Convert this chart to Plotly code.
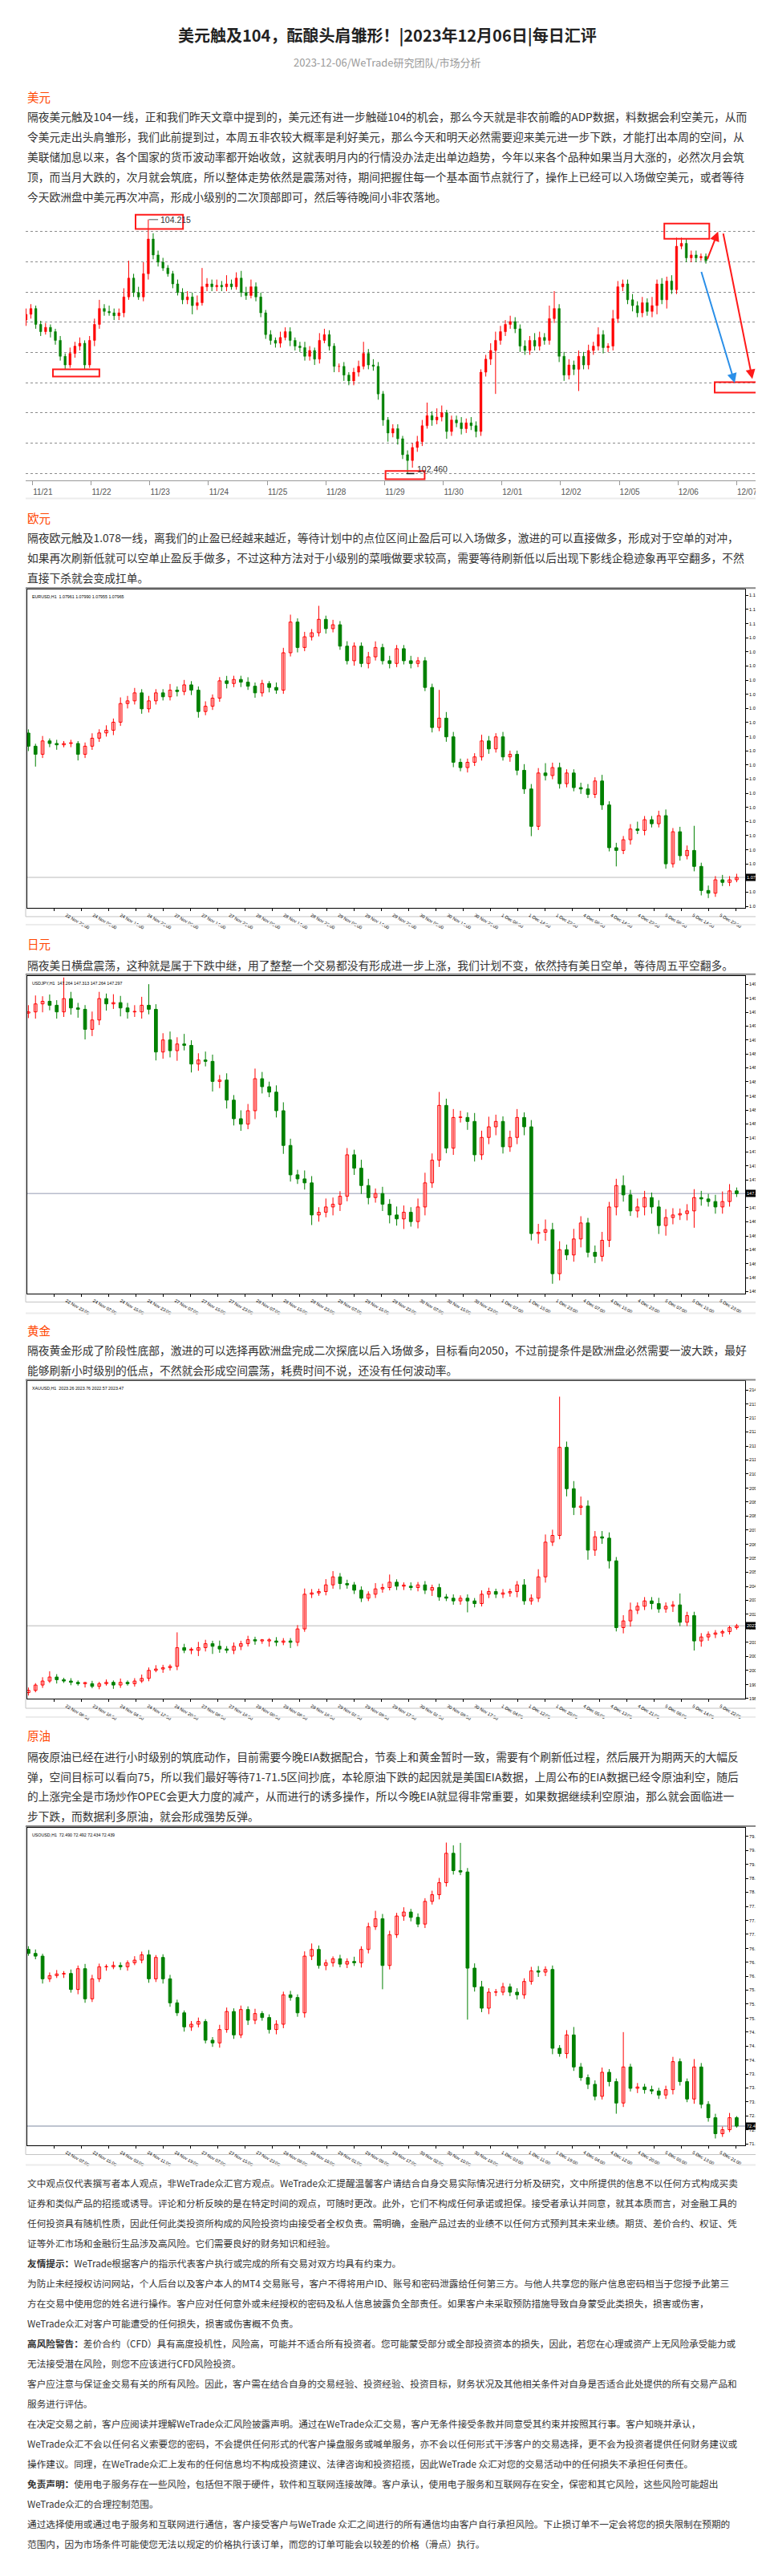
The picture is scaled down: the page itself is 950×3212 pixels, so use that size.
import plotly.graph_objects as go

W, H = 950, 3212
CJK = "Noto Sans CJK SC, sans-serif"
LAT = "Liberation Sans, Arial, sans-serif"
UP, DN = "#ff0000", "#008000"
BODY_SIZE, DISC_SIZE = 13.75, 11.65

# ---------------- text ----------------
title = "美元触及104，酝酿头肩雏形！|2023年12月06日|每日汇评"
subtitle = "2023-12-06/WeTrade研究团队/市场分析"
usd_head, eur_head, jpy_head, gold_head, oil_head = "美元", "欧元", "日元", "黄金", "原油"
usd_text = [
    "隔夜美元触及104一线，正和我们昨天文章中提到的，美元还有进一步触碰104的机会，那么今天就是非农前瞻的ADP数据，料数据会利空美元，从而",
    "令美元走出头肩雏形，我们此前提到过，本周五非农较大概率是利好美元，那么今天和明天必然需要迎来美元进一步下跌，才能打出本周的空间，从",
    "美联储加息以来，各个国家的货币波动率都开始收敛，这就表明月内的行情没办法走出单边趋势，今年以来各个品种如果当月大涨的，必然次月会筑",
    "顶，而当月大跌的，次月就会筑底，所以整体走势依然是震荡对待，期间把握住每一个基本面节点就行了，操作上已经可以入场做空美元，或者等待",
    "今天欧洲盘中美元再次冲高，形成小级别的二次顶部即可，然后等待晚间小非农落地。",
]
eur_text = [
    "隔夜欧元触及1.078一线，离我们的止盈已经越来越近，等待计划中的点位区间止盈后可以入场做多，激进的可以直接做多，形成对于空单的对冲，",
    "如果再次刷新低就可以空单止盈反手做多，不过这种方法对于小级别的菜哦做要求较高，需要等待刷新低以后出现下影线企稳迹象再平空翻多，不然",
    "直接下杀就会变成扛单。",
]
jpy_text = [
    "隔夜美日横盘震荡，这种就是属于下跌中继，用了整整一个交易都没有形成进一步上涨，我们计划不变，依然持有美日空单，等待周五平空翻多。",
]
gold_text = [
    "隔夜黄金形成了阶段性底部，激进的可以选择再欧洲盘完成二次探底以后入场做多，目标看向2050，不过前提条件是欧洲盘必然需要一波大跌，最好",
    "能够刷新小时级别的低点，不然就会形成空间震荡，耗费时间不说，还没有任何波动率。",
]
oil_text = [
    "隔夜原油已经在进行小时级别的筑底动作，目前需要今晚EIA数据配合，节奏上和黄金暂时一致，需要有个刷新低过程，然后展开为期两天的大幅反",
    "弹，空间目标可以看向75，所以我们最好等待71-71.5区间抄底，本轮原油下跌的起因就是美国EIA数据，上周公布的EIA数据已经令原油利空，随后",
    "的上涨完全是市场炒作OPEC会更大力度的减产，从而进行的诱多操作，所以今晚EIA就显得非常重要，如果数据继续利空原油，那么就会面临进一",
    "步下跌，而数据利多原油，就会形成强势反弹。",
]
disclaimer = [
    "文中观点仅代表撰写者本人观点，非WeTrade众汇官方观点。WeTrade众汇提醒温馨客户请结合自身交易实际情况进行分析及研究，文中所提供的信息不以任何方式构成买卖",
    "证券和类似产品的招揽或诱导。评论和分析反映的是在特定时间的观点，可随时更改。此外，它们不构成任何承诺或担保。接受者承认并同意，就其本质而言，对金融工具的",
    "任何投资具有随机性质，因此任何此类投资所构成的风险投资均由接受者全权负责。需明确，金融产品过去的业绩不以任何方式预判其未来业绩。期货、差价合约、权证、凭",
    "证等外汇市场和金融衍生品涉及高风险。它们需要良好的财务知识和经验。",
    "<b>友情提示：</b>WeTrade根据客户的指示代表客户执行或完成的所有交易对双方均具有约束力。",
    "为防止未经授权访问网站，个人后台以及客户本人的MT4 交易账号，客户不得将用户ID、账号和密码泄露给任何第三方。与他人共享您的账户信息密码相当于您授予此第三",
    "方在交易中使用您的姓名进行操作。客户应对任何意外或未经授权的密码及私人信息披露负全部责任。如果客户未采取预防措施导致自身蒙受此类损失，损害或伤害，",
    "WeTrade众汇对客户可能遭受的任何损失，损害或伤害概不负责。",
    "<b>高风险警告：</b>差价合约（CFD）具有高度投机性，风险高，可能并不适合所有投资者。您可能蒙受部分或全部投资资本的损失，因此，若您在心理或资产上无风险承受能力或",
    "无法接受潜在风险，则您不应该进行CFD风险投资。",
    "客户应注意与保证金交易有关的所有风险。因此，客户需在结合自身的交易经验、投资经验、投资目标，财务状况及其他相关条件对自身是否适合此处提供的所有交易产品和",
    "服务进行评估。",
    "在决定交易之前，客户应阅读并理解WeTrade众汇风险披露声明。通过在WeTrade众汇交易，客户无条件接受条款并同意受其约束并按照其行事。客户知晓并承认，",
    "WeTrade众汇不会以任何名义索要您的密码，不会提供任何形式的代客户操盘服务或喊单服务，亦不会以任何形式干涉客户的交易选择，更不会为投资者提供任何财务建议或",
    "操作建议。同理，在WeTrade众汇上发布的任何信息均不构成投资建议、法律咨询和投资招揽，因此WeTrade 众汇对您的交易活动中的任何损失不承担任何责任。",
    "<b>免责声明：</b>使用电子服务存在一些风险，包括但不限于硬件，软件和互联网连接故障。客户承认，使用电子服务和互联网存在安全，保密和其它风险，这些风险可能超出",
    "WeTrade众汇的合理控制范围。",
    "通过选择使用或通过电子服务和互联网进行通信，客户接受客户与WeTrade 众汇之间进行的所有通信均由客户自行承担风险。下止损订单不一定会将您的损失限制在预期的",
    "范围内，因为市场条件可能使您无法以规定的价格执行该订单，而您的订单可能会以较差的价格（滑点）执行。",
]

# ---------------- USD (index chart) ----------------
usd_dates = ["11/21", "11/22", "11/23", "11/24", "11/25", "11/28", "11/29", "11/30",
             "12/01", "12/02", "12/05", "12/06", "12/07"]
usd_open0 = 103.52
usd_close = [
    103.56, 103.60, 103.49, 103.44, 103.47, 103.44, 103.38, 103.27, 103.21, 103.29,
    103.34, 103.36, 103.21, 103.38, 103.49, 103.60, 103.58, 103.57, 103.55, 103.57,
    103.68, 103.81, 103.71, 103.68, 103.84, 104.08, 103.97, 103.92, 103.88, 103.84,
    103.77, 103.71, 103.66, 103.68, 103.62, 103.64, 103.75, 103.77, 103.75, 103.76,
    103.75, 103.77, 103.75, 103.81, 103.71, 103.69, 103.75, 103.68, 103.57, 103.42,
    103.38, 103.36, 103.40, 103.44, 103.38, 103.34, 103.33, 103.27, 103.31, 103.25,
    103.38, 103.42, 103.34, 103.20, 103.20, 103.14, 103.10, 103.16, 103.20, 103.29,
    103.21, 103.20, 103.01, 102.83, 102.74, 102.77, 102.70, 102.59, 102.55, 102.64,
    102.68, 102.79, 102.86, 102.83, 102.85, 102.88, 102.75, 102.83, 102.81, 102.77,
    102.81, 102.79, 102.75, 103.16, 103.25, 103.31, 103.38, 103.44, 103.49, 103.51,
    103.46, 103.34, 103.31, 103.38, 103.34, 103.40, 103.38, 103.53, 103.60, 103.27,
    103.14, 103.21, 103.18, 103.27, 103.21, 103.31, 103.34, 103.42, 103.33, 103.34,
    103.53, 103.75, 103.77, 103.66, 103.62, 103.57, 103.64, 103.58, 103.62, 103.77,
    103.66, 103.79, 103.73, 104.03, 104.05, 103.95, 103.97, 103.95, 103.96, 103.93]
usd_wick_up = [  # in 0.001
    40, 30, 20, 25, 30, 20, 20, 30, 20, 40, 30, 40, 20, 30, 40, 60, 30, 40, 30, 30,
    60, 120, 30, 40, 80, 135, 40, 30, 30, 20, 20, 30, 30, 40, 30, 50, 130, 40, 30, 40,
    30, 60, 30, 40, 50, 40, 50, 30, 30, 20, 30, 20, 40, 30, 30, 20, 30, 40, 30, 20,
    50, 40, 30, 20, 20, 30, 20, 30, 40, 80, 30, 40, 30, 20, 20, 30, 30, 20, 30, 30,
    40, 40, 90, 30, 60, 50, 20, 30, 30, 40, 30, 40, 30, 20, 30, 50, 60, 40, 30, 40,
    30, 30, 40, 30, 50, 40, 30, 90, 120, 30, 30, 40, 30, 40, 30, 40, 30, 50, 30, 20,
    60, 40, 30, 30, 40, 30, 40, 30, 60, 30, 40, 30, 40, 60, 40, 30, 30, 30, 20, 20]
usd_wick_dn = [
    40, 30, 30, 30, 20, 40, 30, 30, 30, 20, 30, 30, 30, 20, 40, 30, 30, 20, 30, 30,
    30, 20, 30, 20, 30, 40, 30, 30, 20, 20, 30, 20, 30, 30, 60, 30, 20, 30, 30, 30,
    30, 30, 20, 20, 30, 30, 20, 30, 30, 30, 30, 30, 30, 20, 40, 30, 30, 30, 30, 40,
    30, 20, 30, 40, 40, 40, 30, 30, 30, 20, 30, 30, 40, 40, 60, 30, 40, 30, 90, 50,
    30, 30, 20, 40, 30, 30, 50, 30, 30, 40, 30, 30, 40, 30, 30, 40, 300, 30, 30, 30,
    30, 40, 30, 30, 30, 30, 30, 30, 30, 40, 40, 30, 40, 150, 30, 30, 30, 30, 40, 30,
    30, 30, 30, 30, 40, 30, 30, 30, 40, 60, 30, 60, 30, 30, 20, 30, 30, 30, 20, 20]
usd_grid = [102.46, 102.669, 102.878, 103.087, 103.296, 103.505, 103.714, 103.923, 104.132]
usd_high_lbl, usd_low_lbl = "104.215", "102.460"

# ---------------- EURUSD H1 ----------------
eur_name = "EURUSD,H1  1.07961 1.07990 1.07955 1.07965"
eur_last = 1.07965
eur_open0 = 1.09140
eur_close = [
    1.09033, 1.08967, 1.09076, 1.09055, 1.09044, 1.09055, 1.09055, 1.08967, 1.09033, 1.09098,
    1.09141, 1.09163, 1.09228, 1.09380, 1.09402, 1.09467, 1.09337, 1.09402, 1.09467, 1.09435,
    1.09489, 1.09478, 1.09532, 1.09489, 1.09315, 1.09358, 1.09424, 1.09565, 1.09543, 1.09576,
    1.09554, 1.09521, 1.09467, 1.09543, 1.09511, 1.09489, 1.09793, 1.10043, 1.09836, 1.09923,
    1.09956, 1.10065, 1.09989, 1.10021, 1.09847, 1.09728, 1.09847, 1.09706, 1.09760, 1.09836,
    1.09728, 1.09706, 1.09826, 1.09728, 1.09706, 1.09728, 1.09511, 1.09185, 1.09261, 1.09109,
    1.08902, 1.08859, 1.08902, 1.08946, 1.09076, 1.09011, 1.09109, 1.08946, 1.08967, 1.08837,
    1.08685, 1.08381, 1.08815, 1.08794, 1.08859, 1.08728, 1.08815, 1.08696, 1.08685, 1.08641,
    1.08750, 1.08555, 1.08207, 1.08185, 1.08272, 1.08359, 1.08348, 1.08435, 1.08402, 1.08468,
    1.08076, 1.08337, 1.08142, 1.08185, 1.08055, 1.07859, 1.07837, 1.07946, 1.07925, 1.07946,
    1.07965]
eur_wick_up = [  # pips
    3, 2, 4, 2, 3, 2, 3, 2, 3, 4, 3, 4, 3, 5, 4, 4, 3, 4, 3, 3,
    5, 3, 4, 3, 3, 4, 3, 3, 4, 3, 3, 4, 3, 3, 2, 4, 4, 6, 3, 4,
    3, 11, 3, 4, 3, 4, 3, 3, 4, 5, 3, 4, 3, 3, 4, 3, 3, 3, 23, 5,
    4, 3, 3, 3, 5, 4, 3, 4, 3, 3, 5, 4, 4, 8, 4, 4, 3, 3, 4, 4,
    3, 5, 3, 4, 3, 4, 6, 3, 3, 4, 5, 3, 4, 4, 20, 3, 4, 3, 4, 3, 3]
eur_wick_dn = [
    4, 10, 3, 3, 4, 2, 3, 5, 3, 3, 3, 3, 4, 3, 4, 3, 4, 3, 3, 3,
    3, 4, 3, 4, 5, 3, 3, 3, 4, 3, 4, 3, 4, 3, 4, 3, 3, 3, 4, 3,
    3, 3, 4, 3, 3, 3, 4, 3, 4, 3, 3, 4, 3, 3, 4, 3, 3, 4, 3, 4,
    4, 3, 4, 3, 3, 4, 3, 3, 4, 4, 4, 8, 3, 4, 3, 4, 3, 3, 4, 3,
    3, 4, 3, 13, 3, 4, 3, 4, 3, 3, 4, 3, 4, 3, 4, 4, 4, 3, 3, 3, 2]
eur_yticks = [1.10260, 1.10145, 1.10030, 1.09915, 1.09800, 1.09685, 1.09570, 1.09455, 1.09340,
              1.09225, 1.09110, 1.08995, 1.08880, 1.08765, 1.08650, 1.08535, 1.08420, 1.08305,
              1.08190, 1.08075, 1.07960, 1.07845, 1.07730]
eur_xlabels = ["21 Nov 2023", "22 Nov 22:00", "24 Nov 06:00", "24 Nov 14:00", "24 Nov 22:00",
               "27 Nov 06:00", "27 Nov 14:00", "27 Nov 22:00", "28 Nov 06:00", "28 Nov 14:00",
               "28 Nov 22:00", "29 Nov 06:00", "29 Nov 14:00", "29 Nov 22:00", "30 Nov 06:00",
               "30 Nov 14:00", "30 Nov 22:00", "1 Dec 06:00", "1 Dec 14:00", "1 Dec 22:00",
               "4 Dec 06:00", "4 Dec 14:00", "4 Dec 22:00", "5 Dec 06:00", "5 Dec 14:00",
               "5 Dec 22:00", "6 Dec 06:00"]

# ---------------- USDJPY H1 ----------------
jpy_name = "USDJPY,H1  147.264 147.313 147.264 147.297"
jpy_last = 147.297
jpy_open0 = 149.440
jpy_close = [
    149.454, 149.549, 149.580, 149.533, 149.454, 149.612, 149.501, 149.485, 149.247, 149.358,
    149.612, 149.549, 149.564, 149.501, 149.454, 149.454, 149.533, 149.485, 148.978, 149.121,
    148.994, 149.073, 149.057, 148.835, 148.883, 148.867, 148.629, 148.645, 148.407, 148.186,
    148.122, 148.281, 148.661, 148.566, 148.502, 148.281, 147.869, 147.520, 147.472, 147.425,
    147.044, 147.076, 147.139, 147.171, 147.266, 147.758, 147.599, 147.393, 147.250, 147.298,
    147.171, 147.044, 146.997, 147.076, 146.965, 147.139, 147.425, 147.694, 148.344, 147.837,
    148.201, 148.201, 148.154, 147.758, 147.964, 148.090, 148.154, 147.853, 147.964, 148.201,
    148.090, 146.823, 146.838, 146.870, 146.347, 146.632, 146.569, 146.759, 146.949, 146.601,
    146.553, 146.743, 147.139, 147.393, 147.282, 147.092, 147.139, 147.250, 147.139, 146.918,
    147.013, 147.044, 147.060, 147.092, 147.250, 147.234, 147.203, 147.139, 147.203, 147.330,
    147.297]
jpy_wick_up = [  # 0.01
    8, 10, 6, 8, 6, 25, 8, 6, 5, 10, 8, 6, 10, 8, 6, 8, 10, 25, 6, 8,
    10, 8, 12, 6, 8, 10, 8, 6, 8, 6, 10, 8, 12, 8, 6, 8, 10, 8, 6, 10,
    8, 6, 10, 8, 6, 8, 6, 10, 8, 6, 8, 6, 10, 8, 6, 10, 12, 8, 16, 8,
    10, 8, 6, 10, 8, 12, 8, 6, 8, 10, 6, 8, 10, 12, 8, 10, 6, 12, 8, 6,
    8, 10, 6, 8, 12, 6, 10, 8, 6, 8, 10, 8, 6, 8, 10, 8, 6, 8, 12, 8, 4]
jpy_wick_dn = [
    6, 8, 10, 6, 8, 6, 8, 10, 12, 8, 6, 8, 6, 10, 8, 6, 8, 6, 10, 8,
    8, 12, 6, 10, 8, 6, 12, 8, 10, 8, 8, 6, 10, 8, 6, 8, 10, 8, 6, 8,
    12, 8, 6, 10, 8, 6, 8, 10, 8, 6, 8, 10, 8, 12, 6, 8, 10, 6, 8, 6,
    8, 6, 10, 8, 6, 8, 10, 8, 6, 8, 10, 8, 12, 10, 12, 8, 6, 8, 10, 6,
    8, 6, 8, 10, 8, 6, 8, 10, 8, 10, 12, 8, 6, 8, 20, 8, 6, 8, 8, 6, 4]
jpy_yticks = [149.780, 149.615, 149.450, 149.285, 149.120, 148.955, 148.790, 148.625, 148.455,
              148.290, 148.125, 147.960, 147.795, 147.625, 147.460, 147.295, 147.130, 146.965,
              146.795, 146.630, 146.465, 146.300, 146.135]
jpy_xlabels = ["22 Nov 2023", "22 Nov 23:00", "24 Nov 07:00", "24 Nov 15:00", "24 Nov 23:00",
               "27 Nov 07:00", "27 Nov 15:00", "27 Nov 23:00", "28 Nov 07:00", "28 Nov 15:00",
               "28 Nov 23:00", "29 Nov 07:00", "29 Nov 15:00", "29 Nov 23:00", "30 Nov 07:00",
               "30 Nov 15:00", "30 Nov 23:00", "1 Dec 07:00", "1 Dec 15:00", "1 Dec 23:00",
               "4 Dec 07:00", "4 Dec 15:00", "4 Dec 23:00", "5 Dec 07:00", "5 Dec 15:00",
               "5 Dec 23:00"]

# ---------------- XAUUSD H1 ----------------
gold_name = "XAUUSD,H1  2023.26 2023.76 2022.57 2023.47"
gold_last = 2023.47
gold_open0 = 1988.50
gold_close = [
    1989.70, 1992.49, 1994.58, 1996.68, 1995.28, 1994.58, 1993.89, 1993.19, 1993.19, 1991.79,
    1993.19, 1993.89, 1992.49, 1993.89, 1993.19, 1994.58, 1995.98, 2000.18, 2000.87, 2001.57,
    2002.27, 2012.05, 2010.66, 2010.66, 2012.05, 2014.15, 2012.75, 2011.35, 2010.66, 2012.75,
    2014.15, 2016.25, 2015.55, 2015.55, 2015.55, 2014.85, 2015.55, 2014.85, 2021.84, 2040.00,
    2040.70, 2041.40, 2044.89, 2049.08, 2045.59, 2044.89, 2042.10, 2037.91, 2040.00, 2042.80,
    2043.50, 2046.29, 2044.19, 2044.19, 2043.50, 2044.89, 2042.10, 2043.50, 2038.60, 2037.91,
    2036.51, 2037.91, 2036.51, 2035.11, 2040.00, 2041.40, 2040.00, 2040.70, 2041.40, 2044.89,
    2036.51, 2037.91, 2049.08, 2067.25, 2070.75, 2116.86, 2095.20, 2085.42, 2086.12, 2063.06,
    2070.05, 2069.35, 2057.47, 2022.53, 2026.03, 2031.62, 2033.71, 2036.51, 2035.11, 2032.32,
    2033.71, 2034.41, 2025.33, 2028.82, 2015.55, 2017.64, 2019.04, 2019.74, 2020.44, 2022.53,
    2023.47]
gold_wick_up = [  # dollars
    1.5, 1, 2, 3, 1.5, 1, 1.5, 1, 1, 1.5, 1, 1.5, 1, 2, 1, 1.5, 2, 1.5, 2, 1.5,
    1, 8, 2, 1.5, 3, 2, 1.5, 3, 1.5, 2, 1.5, 2, 1.5, 1, 1.5, 2, 1.5, 1.5, 2, 3,
    2, 1.5, 3, 3, 2, 2, 1.5, 2, 1.5, 3, 2, 4, 1.5, 2, 2, 1.5, 2, 1.5, 2, 1.5,
    2, 1.5, 2, 1.5, 2, 2, 1.5, 2, 1.5, 2, 3, 2, 4, 4, 3, 26.5, 3, 4, 5, 3,
    3, 3, 3, 2, 3, 4, 2, 2, 2, 3, 2, 2, 6, 2, 2, 2, 1.5, 1.5, 1, 1, 1]
gold_wick_dn = [
    1.5, 1, 1.5, 1, 2, 1, 1.5, 1, 2, 1, 1.5, 1, 2, 1.5, 1, 1.5, 1, 1.5, 1, 2,
    1.5, 2, 1.5, 2, 3, 2, 4, 2, 1.5, 2, 2, 1.5, 2, 1.5, 3, 2, 1.5, 3, 2, 1.5,
    2, 1.5, 2, 2, 3, 2, 2, 2, 1.5, 2, 2, 1.5, 2, 2, 1.5, 2, 2, 3, 2, 1.5,
    2, 2, 6, 2, 1.5, 2, 2, 2, 2, 3, 2, 2, 2, 3, 2, 2, 4, 4, 4, 5,
    3, 3, 4, 2, 3, 3, 2, 2, 3, 2, 2, 3, 2, 2, 5, 3, 2, 2, 2, 1.5, 1]
gold_yticks = [2146.90, 2139.50, 2132.30, 2124.90, 2117.50, 2110.30, 2102.90, 2095.50, 2088.30,
               2080.90, 2073.50, 2066.10, 2058.90, 2051.50, 2044.10, 2036.90, 2029.50, 2022.30,
               2014.90, 2007.50, 2000.10, 1992.70, 1985.50]
gold_xlabels = ["22 Nov 2023", "22 Nov 08:00", "23 Nov 16:00", "24 Nov 04:00", "24 Nov 12:00",
                "24 Nov 20:00", "27 Nov 08:00", "27 Nov 16:00", "28 Nov 00:00", "28 Nov 08:00",
                "28 Nov 16:00", "29 Nov 01:00", "29 Nov 09:00", "29 Nov 17:00", "30 Nov 01:00",
                "30 Nov 09:00", "30 Nov 17:00", "1 Dec 04:00", "1 Dec 12:00", "1 Dec 20:00",
                "4 Dec 05:00", "4 Dec 13:00", "4 Dec 21:00", "5 Dec 06:00", "5 Dec 14:00",
                "5 Dec 22:00"]

# ---------------- USOUSD H1 ----------------
oil_name = "USOUSD,H1  72.490 72.492 72.434 72.439"
oil_last = 72.439
oil_open0 = 76.900
oil_close = [
    76.797, 76.729, 76.156, 76.237, 76.278, 76.291, 75.887, 76.412, 75.651, 76.156,
    76.460, 76.460, 76.493, 76.460, 76.561, 76.628, 76.763, 76.156, 76.696, 76.156,
    75.550, 75.298, 74.943, 75.010, 75.078, 74.606, 74.538, 74.875, 75.331, 74.740,
    75.381, 75.111, 75.280, 75.179, 74.875, 75.010, 75.752, 75.684, 75.298, 76.729,
    76.898, 76.493, 76.561, 76.662, 76.527, 76.594, 76.561, 76.898, 77.471, 77.673,
    76.493, 77.269, 77.741, 77.842, 77.707, 77.538, 78.111, 78.280, 78.583, 79.325,
    78.887, 78.853, 76.426, 75.954, 75.415, 75.819, 75.819, 75.954, 75.819, 75.752,
    76.089, 76.358, 76.325, 76.392, 74.403, 74.269, 74.740, 73.931, 73.662, 73.493,
    73.190, 73.797, 73.561, 73.021, 73.931, 73.392, 73.426, 73.358, 73.325, 73.223,
    73.358, 74.066, 73.561, 73.122, 73.931, 72.988, 72.650, 72.246, 72.347, 72.650,
    72.439]
oil_wick_up = [  # cents
    8, 10, 6, 8, 10, 6, 10, 8, 12, 10, 8, 6, 10, 8, 6, 10, 8, 12, 6, 8,
    10, 8, 6, 8, 10, 6, 8, 12, 10, 8, 10, 8, 12, 6, 8, 10, 8, 10, 8, 12,
    15, 10, 8, 6, 10, 8, 12, 8, 10, 20, 12, 10, 8, 12, 8, 10, 8, 10, 12, 27,
    20, 70, 10, 12, 15, 10, 8, 10, 8, 10, 8, 10, 12, 8, 10, 8, 12, 20, 10, 8,
    10, 12, 8, 8, 88, 8, 10, 8, 10, 8, 10, 12, 8, 8, 20, 10, 8, 10, 8, 12, 4]
oil_wick_dn = [
    6, 8, 12, 8, 6, 10, 8, 12, 10, 8, 8, 10, 6, 8, 10, 6, 8, 10, 8, 12,
    10, 8, 12, 10, 8, 8, 10, 12, 8, 10, 8, 12, 10, 8, 10, 12, 10, 8, 10, 12,
    10, 8, 12, 10, 8, 10, 8, 12, 10, 8, 60, 10, 8, 12, 10, 8, 10, 8, 12, 10,
    10, 8, 130, 12, 10, 15, 10, 8, 10, 12, 10, 8, 12, 10, 15, 8, 12, 10, 8, 12,
    10, 8, 12, 27, 10, 8, 12, 10, 8, 10, 10, 12, 10, 8, 12, 10, 10, 12, 8, 6, 4]
oil_yticks = [79.750, 79.400, 79.040, 78.690, 78.340, 77.980, 77.630, 77.280, 76.920, 76.570,
              76.220, 75.870, 75.520, 75.160, 74.810, 74.460, 74.100, 73.750, 73.400, 73.050,
              72.695, 72.345, 71.990]
oil_xlabels = ["22 Nov 2023", "22 Nov 07:00", "22 Nov 15:00", "24 Nov 03:00", "24 Nov 11:00",
               "24 Nov 19:00", "27 Nov 07:00", "27 Nov 15:00", "27 Nov 23:00", "28 Nov 08:00",
               "28 Nov 16:00", "29 Nov 01:00", "29 Nov 09:00", "29 Nov 17:00", "30 Nov 02:00",
               "30 Nov 10:00", "30 Nov 18:00", "1 Dec 03:00", "1 Dec 11:00", "1 Dec 19:00",
               "4 Dec 04:00", "4 Dec 12:00", "4 Dec 20:00", "5 Dec 05:00", "5 Dec 13:00",
               "5 Dec 21:00", "6 Dec 06:00"]

# ================= figure =================
fig = go.Figure()


def px(x):
    return x / W


def py(y):
    return 1 - y / H


def text(x, y, s, size=BODY_SIZE, color="#333333", family=CJK, anchor="left"):
    fig.add_annotation(xref="paper", yref="paper", x=px(x), y=py(y), text=s, showarrow=False,
                       xanchor=anchor, yanchor="middle", font=dict(size=size, color=color, family=family))


def candles(xa, ya, open0, closes, wu, wd, unit, hollow, bw, lw):
    opens = [open0] + list(closes[:-1])
    idx = list(range(len(closes)))
    hi = [max(o, c) + u * unit for o, c, u in zip(opens, closes, wu)]
    lo = [min(o, c) - d * unit for o, c, d in zip(opens, closes, wd)]
    up = [i for i in idx if closes[i] >= opens[i]]
    dn = [i for i in idx if closes[i] < opens[i]]
    for sel, col in ((up, UP), (dn, DN)):
        wx, wy = [], []
        for i in sel:
            wx += [i, i, None]
            wy += [lo[i], hi[i], None]
        fig.add_trace(go.Scatter(x=wx, y=wy, mode="lines", line=dict(color=col, width=1),
                                 xaxis=xa, yaxis=ya, hoverinfo="skip", showlegend=False))
    minh = unit * 0.6
    for sel, fill, col in ((up, "white" if hollow else UP, UP), (dn, DN, DN)):
        fig.add_trace(go.Bar(x=sel, y=[max(abs(closes[i] - opens[i]), minh) for i in sel],
                             base=[min(opens[i], closes[i]) for i in sel], width=bw,
                             marker=dict(color=fill, line=dict(color=col, width=lw)),
                             xaxis=xa, yaxis=ya, hoverinfo="skip", showlegend=False))


# ---- header text ----
text(475, 36, "<b>" + title + "</b>", size=20, color="#222222", anchor="center")
text(475, 70, subtitle, size=13, color="#9a9a9a", anchor="center")

HEAD = "#ff4500"
text(24, 113, usd_head, size=14.5, color=HEAD)
for k, s in enumerate(usd_text):
    text(24, 137 + 25 * k, s)
text(24, 638, eur_head, size=14.5, color=HEAD)
for k, s in enumerate(eur_text):
    text(24, 663 + 25 * k, s)
text(24, 1170, jpy_head, size=14.5, color=HEAD)
for k, s in enumerate(jpy_text):
    text(24, 1196 + 25 * k, s)
text(24, 1652, gold_head, size=14.5, color=HEAD)
for k, s in enumerate(gold_text):
    text(24, 1677 + 24.5 * k, s)
text(24, 2158, oil_head, size=14.5, color=HEAD)
for k, s in enumerate(oil_text):
    text(24, 2184 + 24.7 * k, s)
for k, s in enumerate(disclaimer):
    text(24, 2716 + 25 * k, s, size=DISC_SIZE)

# separators
for ys in (614, 1146, 1631, 2135, 2694):
    fig.add_shape(type="line", xref="paper", yref="paper", x0=px(24), x1=px(944), y0=py(ys), y1=py(ys),
                  line=dict(color="#ececec", width=2))

# ---- USD chart ----
candles("x", "y", usd_open0, usd_close, usd_wick_up, usd_wick_dn, 0.001, False, 0.45, 0.5)
fig.update_layout(
    xaxis=dict(domain=[px(24), px(944)], range=[-0.07, 150.8], anchor="y",
               tickvals=[1.3 + 12 * k for k in range(len(usd_dates))], ticktext=usd_dates,
               showgrid=False, zeroline=False, showline=True, linecolor="#999999", linewidth=1,
               ticks="outside", ticklen=5, tickcolor="#999999", ticklabelshift=13,
               tickfont=dict(size=10, color="#555555", family=LAT)),
    yaxis=dict(domain=[py(592), py(256)], range=[102.41, 104.27], anchor="x",
               tickvals=usd_grid, showticklabels=False, showgrid=True, gridcolor="#8c8c8c",
               griddash="dot", gridwidth=1, zeroline=False, ticks=""),
)
red_boxes = [(22.4, 32.1, 104.149, 104.248), (73.5, 81.5, 102.421, 102.477), (5.5, 15.0, 103.130, 103.180),
             (130.5, 139.7, 104.082, 104.187), (140.8, 150.2, 103.019, 103.091)]
for x0, x1, y0, y1 in red_boxes:
    fig.add_shape(type="rect", xref="x", yref="y", x0=x0, x1=x1, y0=y0, y1=y1,
                  line=dict(color="#ff1a1a", width=2))
fig.add_shape(type="line", xref="x", yref="y", x0=25.1, x1=27.0, y0=float(usd_high_lbl), y1=float(usd_high_lbl),
              line=dict(color="#888888", width=1.5))
fig.add_annotation(xref="x", yref="y", x=27.1, y=float(usd_high_lbl), text=usd_high_lbl, showarrow=False,
                   xanchor="left", yanchor="middle", font=dict(size=10.5, color="#333333", family=LAT))
fig.add_shape(type="line", xref="x", yref="y", x0=77.8, x1=79.4, y0=float(usd_low_lbl), y1=float(usd_low_lbl),
              line=dict(color="#111111", width=1.5))
fig.add_annotation(xref="x", yref="y", x=79.6, y=102.49, text=usd_low_lbl, showarrow=False,
                   xanchor="left", yanchor="middle", font=dict(size=10.5, color="#333333", family=LAT))
for (hx, hy, tx, ty, col) in [(141.5, 104.132, 139.2, 103.933, "#ff1a1a"),
                              (148.5, 103.113, 142.5, 104.126, "#ff1a1a"),
                              (144.9, 103.086, 138.0, 103.861, "#2a8fe8")]:
    fig.add_annotation(xref="x", yref="y", axref="x", ayref="y", x=hx, y=hy, ax=tx, ay=ty, text="",
                       showarrow=True, arrowhead=2, arrowsize=1.2, arrowwidth=2, arrowcolor=col)

# ---- MT4 charts ----
mt4 = [
    (eur_name, eur_open0, eur_close, eur_wick_up, eur_wick_dn, 0.0001, eur_yticks, "{:.5f}", eur_last,
     eur_xlabels, 728, 1125, 726, 1136, (1.07718, 1.10306), "#d0d0d0"),
    (jpy_name, jpy_open0, jpy_close, jpy_wick_up, jpy_wick_dn, 0.01, jpy_yticks, "{:.3f}", jpy_last,
     jpy_xlabels, 1210, 1606, 1208, 1617, (146.115, 149.881), "#b8bccc"),
    (gold_name, gold_open0, gold_close, gold_wick_up, gold_wick_dn, 1.0, gold_yticks, "{:.2f}", gold_last,
     gold_xlabels, 1716, 2112, 1714, 2124, (1985.37, 2151.37), "#d0d0d0"),
    (oil_name, oil_open0, oil_close, oil_wick_up, oil_wick_dn, 0.01, oil_yticks, "{:.3f}", oil_last,
     oil_xlabels, 2273, 2669, 2271, 2681, (71.963, 79.972), "#a8b0c0"),
]
for n, (name, o0, cl, wu, wd, unit, yt, fmt, last, xl, top, bot, otop, obot, yr, lastcol) in enumerate(mt4):
    k = n + 2
    xa, ya = "x%d" % k, "y%d" % k
    fig.add_shape(type="rect", xref="paper", yref="paper", x0=px(24), x1=px(944), y0=py(obot), y1=py(otop),
                  line=dict(color="#c4c4c4", width=1), layer="below")
    fig.add_shape(type="line", xref="paper", yref="paper", x0=px(24), x1=px(944), y0=py(otop), y1=py(otop),
                  line=dict(color="#8a8a8a", width=2))
    fig.add_shape(type="line", xref=xa + " domain", yref=ya, x0=0, x1=1, y0=last, y1=last,
                  line=dict(color=lastcol, width=1.5), layer="below")
    candles(xa, ya, o0, cl, wu, wd, unit, True, 0.42, 1)
    fig.layout["xaxis%d" % k] = dict(
        domain=[px(26), px(921)], range=[-0.16, 101.2], anchor=ya,
        tickvals=[-0.2 + 3.848 * j for j in range(len(xl))], ticktext=xl,
        showgrid=False, zeroline=False, showline=True, mirror=True, linecolor="#000000", linewidth=1,
        ticks="outside", ticklen=3, tickcolor="#000000", ticklabelshift=15,
        tickfont=dict(size=5.6, color="#000000", family=LAT))
    fig.layout["yaxis%d" % k] = dict(
        domain=[py(bot), py(top)], range=list(yr), anchor=xa, side="right",
        tickvals=yt, ticktext=[fmt.format(v) for v in yt],
        showgrid=False, zeroline=False, showline=True, mirror=True, linecolor="#000000", linewidth=1,
        ticks="outside", ticklen=3, tickcolor="#000000",
        tickfont=dict(size=5.6, color="#000000", family=LAT))
    fig.add_annotation(xref=xa + " domain", yref=ya + " domain", x=0.004, y=0.99, text=name, showarrow=False,
                       xanchor="left", yanchor="top", font=dict(size=5.3, color="#000000", family=LAT))
    fig.add_annotation(xref=xa + " domain", yref=ya, x=1.0, y=last, text=fmt.format(last), showarrow=False,
                       xanchor="left", yanchor="middle", bgcolor="#000000", borderpad=1,
                       font=dict(size=5.6, color="#ffffff", family=LAT))

fig.update_layout(width=W, height=H, margin=dict(l=0, r=0, t=0, b=0), paper_bgcolor="white",
                  plot_bgcolor="white", showlegend=False, barmode="overlay", hovermode=False)
fig.write_html("out.html")
